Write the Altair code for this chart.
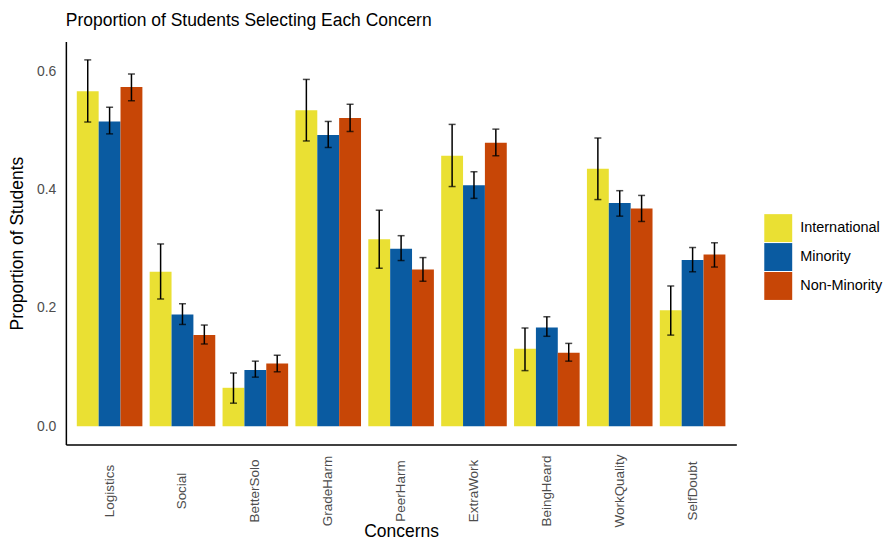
import altair as alt
import pandas as pd

concerns = ["Logistics", "Social", "BetterSolo", "GradeHarm", "PeerHarm",
            "ExtraWork", "BeingHeard", "WorkQuality", "SelfDoubt"]
groups = ["International", "Minority", "Non-Minority"]
colors = ["#EAE033", "#0A5BA1", "#C74606"]

intl = [0.566, 0.261, 0.065, 0.534, 0.316, 0.457, 0.131, 0.435, 0.196]
intl_lo = [0.514, 0.215, 0.039, 0.482, 0.267, 0.405, 0.094, 0.383, 0.154]
intl_hi = [0.619, 0.308, 0.090, 0.586, 0.365, 0.510, 0.166, 0.487, 0.237]

mino = [0.515, 0.189, 0.095, 0.492, 0.300, 0.407, 0.167, 0.377, 0.281]
mino_lo = [0.494, 0.172, 0.083, 0.471, 0.280, 0.385, 0.152, 0.355, 0.261]
mino_hi = [0.539, 0.207, 0.110, 0.515, 0.322, 0.430, 0.185, 0.398, 0.302]

nonm = [0.573, 0.154, 0.106, 0.521, 0.265, 0.479, 0.124, 0.368, 0.290]
nonm_lo = [0.550, 0.139, 0.092, 0.498, 0.245, 0.457, 0.110, 0.346, 0.269]
nonm_hi = [0.595, 0.171, 0.120, 0.544, 0.285, 0.502, 0.140, 0.390, 0.310]

rows = []
for g, vals, los, his in [(groups[0], intl, intl_lo, intl_hi),
                          (groups[1], mino, mino_lo, mino_hi),
                          (groups[2], nonm, nonm_lo, nonm_hi)]:
    for c, v, lo, hi in zip(concerns, vals, los, his):
        rows.append({"Concern": c, "Group": g, "Prop": v, "Lo": lo, "Hi": hi})
df = pd.DataFrame(rows)

FONT = "Liberation Sans"

x = alt.X("Concern:N", sort=concerns, title="Concerns",
          scale=alt.Scale(paddingInner=0.1, paddingOuter=0.15),
          axis=alt.Axis(labelAngle=270, labelAlign="center", labelBaseline="middle",
                        labelPadding=46, ticks=False, labelFontSize=13.5,
                        labelColor="#4D4D4D", titleFontSize=17.5, titleFontWeight="normal",
                        titleColor="#000000", domainColor="#000000", domainWidth=1.5,
                        titleY=92, titleBaseline="alphabetic",
                        labelFont=FONT, titleFont=FONT))
xoff = alt.XOffset("Group:N", sort=groups, scale=alt.Scale(paddingInner=0, paddingOuter=0))

y_scale = alt.Scale(domain=[-0.031, 0.650], nice=False, zero=False)

bars = alt.Chart(df).mark_bar().encode(
    x=x,
    xOffset=xoff,
    y=alt.Y("Prop:Q", scale=y_scale, title="Proportion of Students",
            axis=alt.Axis(values=[0, 0.2, 0.4, 0.6], format=".1f", ticks=False, grid=False,
                          labelFontSize=14, labelColor="#4D4D4D", labelPadding=10,
                          titleFontSize=17.5, titleFontWeight="normal", titleColor="#000000",
                          domainColor="#000000", domainWidth=1.5, titlePadding=10,
                          labelFont=FONT, titleFont=FONT)),
    y2=alt.Y2(datum=0),
    color=alt.Color("Group:N", sort=groups, title=None,
                    scale=alt.Scale(domain=groups, range=colors),
                    legend=alt.Legend(orient="none", legendX=700, legendY=173,
                                      symbolType="square", symbolSize=784,
                                      symbolStrokeWidth=0, symbolOpacity=1,
                                      labelFontSize=14.5, labelFont=FONT,
                                      labelColor="#000000", rowPadding=1,
                                      labelOffset=8, padding=0)),
)

rules = alt.Chart(df).mark_rule(color="black", strokeWidth=1.5).encode(
    x=x, xOffset=xoff,
    y=alt.Y("Lo:Q", scale=y_scale),
    y2="Hi:Q",
)

caps_lo = alt.Chart(df).mark_tick(color="black", thickness=1.5, size=7).encode(
    x=x, xOffset=xoff, y=alt.Y("Lo:Q", scale=y_scale))
caps_hi = alt.Chart(df).mark_tick(color="black", thickness=1.5, size=7).encode(
    x=x, xOffset=xoff, y=alt.Y("Hi:Q", scale=y_scale))

chart = alt.layer(bars, rules, caps_lo, caps_hi).properties(
    width=672, height=404,
    padding={"left": 0, "top": 3, "right": 0, "bottom": 0},
    title=alt.Title("Proportion of Students Selecting Each Concern", anchor="start",
                    frame="group", fontSize=17.5, fontWeight="normal", font=FONT,
                    color="#000000", offset=12),
).configure_view(stroke=None).configure_axis(grid=False)

chart.save("out.html", embed_options={"renderer": "svg", "actions": False})
